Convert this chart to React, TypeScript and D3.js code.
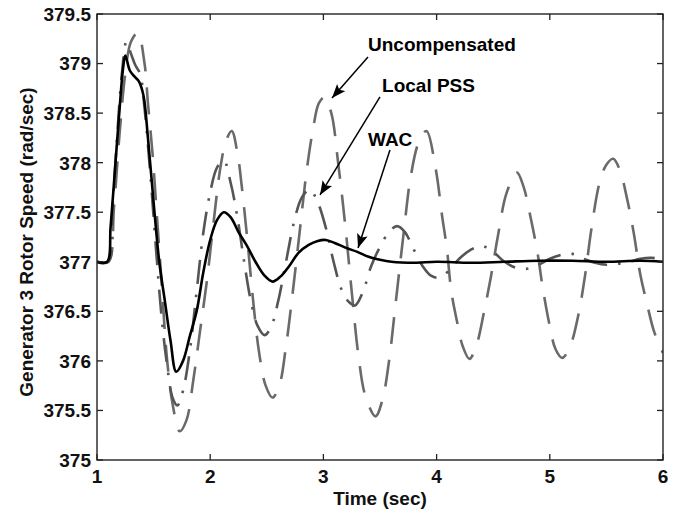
import React from "react";
import * as d3 from "d3";

const timeTicks = [1, 2, 3, 4, 5, 6];
const speedTicks = [375, 375.5, 376, 376.5, 377, 377.5, 378, 378.5, 379, 379.5];

const uncompT = [1.0, 1.1, 1.15, 1.2, 1.25, 1.3, 1.36, 1.42, 1.45, 1.49, 1.53, 1.57, 1.62, 1.67, 1.73, 1.79, 1.85, 1.91, 1.97, 2.03, 2.09, 2.14, 2.19, 2.24, 2.28, 2.33, 2.38, 2.43, 2.49, 2.55, 2.61, 2.67, 2.73, 2.79, 2.85, 2.91, 2.96, 3.01, 3.07, 3.13, 3.19, 3.25, 3.31, 3.37, 3.46, 3.52, 3.58, 3.64, 3.71, 3.77, 3.84, 3.91, 3.99, 4.05, 4.09, 4.13, 4.18, 4.23, 4.29, 4.35, 4.42, 4.48, 4.54, 4.62, 4.71, 4.77, 4.83, 4.89, 4.94, 5.0, 5.05, 5.11, 5.18, 5.25, 5.31, 5.37, 5.44, 5.5, 5.56, 5.62, 5.68, 5.74, 5.8, 5.86, 5.92, 6.0];
const uncompV = [377.0, 377.0, 377.55, 378.3, 378.9, 379.22, 379.31, 379.0, 378.6, 378.1, 377.45, 376.8, 376.0, 375.55, 375.29, 375.4, 375.8, 376.3, 376.8, 377.4, 377.95, 378.22, 378.32, 378.1, 377.75, 377.2, 376.6, 376.1, 375.75, 375.63, 375.75, 376.15, 376.7, 377.3, 377.9, 378.35, 378.6, 378.66, 378.5, 378.0, 377.4, 376.7, 376.05, 375.65, 375.44, 375.6, 376.0, 376.6, 377.3, 377.85, 378.2, 378.32, 377.95, 377.45, 377.14, 376.7, 376.4, 376.15, 376.02, 376.15, 376.5, 376.85, 377.25, 377.7, 377.9, 377.75, 377.45, 377.1, 376.72, 376.35, 376.12, 376.03, 376.15, 376.45, 376.85, 377.35, 377.8, 377.98, 378.04, 377.92, 377.65, 377.3, 376.87, 376.57, 376.3, 376.08];

const pssT = [1.0, 1.1, 1.14, 1.18, 1.22, 1.26, 1.3, 1.34, 1.38, 1.42, 1.47, 1.52, 1.57, 1.62, 1.67, 1.71, 1.76, 1.82, 1.88, 1.94, 2.0, 2.06, 2.12, 2.18, 2.24, 2.3, 2.36, 2.42, 2.48, 2.54, 2.6, 2.67, 2.74, 2.81, 2.88, 2.95, 3.02, 3.09, 3.16, 3.22, 3.28, 3.35, 3.42, 3.5, 3.58, 3.65, 3.72, 3.8, 3.88, 3.95, 4.02, 4.1, 4.2, 4.3, 4.4, 4.5, 4.6, 4.7, 4.8, 4.9, 5.0, 5.1, 5.2, 5.3, 5.4, 5.5, 5.6, 5.7, 5.8, 5.9, 6.0];
const pssV = [377.0, 377.0, 377.6, 378.3, 378.9, 379.22, 379.1, 378.98, 378.9, 378.55, 377.9, 377.15, 376.45, 375.95, 375.62, 375.55, 375.7, 376.1, 376.7, 377.3, 377.7, 377.95, 378.02, 377.8, 377.45, 377.0, 376.6, 376.35, 376.26, 376.35, 376.6, 377.0, 377.4, 377.65, 377.73, 377.6, 377.35, 377.0, 376.72, 376.6, 376.56, 376.7, 376.95, 377.15, 377.3, 377.36, 377.3, 377.12, 376.95, 376.86, 376.84, 376.9, 377.03, 377.12, 377.16, 377.1, 377.0, 376.94, 376.93, 376.97, 377.03, 377.07, 377.08, 377.03, 376.99, 376.97, 376.98, 377.0, 377.03, 377.04, 377.02];

const wacT = [1.0, 1.09, 1.12, 1.16, 1.2, 1.23, 1.25, 1.29, 1.33, 1.37, 1.41, 1.45, 1.5, 1.55, 1.6, 1.65, 1.7, 1.76, 1.82, 1.88, 1.94, 2.0, 2.06, 2.12, 2.18, 2.25, 2.32, 2.4, 2.48, 2.55, 2.62, 2.7, 2.78, 2.87, 2.95, 3.02, 3.1, 3.2, 3.3, 3.4, 3.5, 3.6, 3.8, 4.0, 4.3, 4.6, 4.9, 5.2, 5.5, 5.8, 6.0];
const wacV = [377.0, 377.0, 377.35, 377.95, 378.55, 378.95, 379.08, 378.93, 378.87, 378.82, 378.68, 378.25, 377.6, 377.0, 376.6, 376.2, 375.89, 376.0, 376.25, 376.5, 376.9, 377.22, 377.42, 377.5, 377.45, 377.3, 377.17, 377.0, 376.86, 376.8, 376.85, 376.96, 377.09, 377.17, 377.21, 377.22, 377.19, 377.14, 377.1, 377.05, 377.02, 377.0, 376.99, 377.0, 376.99, 377.0, 377.01, 377.01, 377.0, 377.01, 377.0];

const labels = ["Uncompensated", "Local PSS", "WAC"];
// text anchor (time, speed), arrow tail (time, speed), arrow tip (time, speed)
const labelT = [3.394, 3.518, 3.394];
const labelV = [379.127, 378.713, 378.168];
const tailT = [3.394, 3.5, 3.588];
const tailV = [379.066, 378.663, 378.128];
const tipT = [3.076, 2.97, 3.306];
const tipV = [378.652, 377.674, 377.139];

const W = 683;
const H = 514;
const M = { left: 97, right: 20, top: 14, bottom: 54 };
const FONT = "'Liberation Sans', Arial, Helvetica, sans-serif";

export default function App() {
  const x = d3.scaleLinear().domain([1, 6]).range([M.left, W - M.right]);
  const y = d3.scaleLinear().domain([375, 379.5]).range([H - M.bottom, M.top]);
  const line = d3
    .line<[number, number]>()
    .x((d) => x(d[0]))
    .y((d) => y(d[1]))
    .curve(d3.curveCatmullRom.alpha(0.5));

  const mk = (ts: number[], vs: number[]) => ts.map((t, i) => [t, vs[i]] as [number, number]);
  const uncomp = line(mk(uncompT, uncompV)) || "";
  const pss = line(mk(pssT, pssV)) || "";
  const wac = line(mk(wacT, wacV)) || "";

  const x0 = M.left, x1 = W - M.right, y0 = H - M.bottom, y1 = M.top;
  const tl = 6;

  return (
    <svg
      width={W}
      height={H}
      style={{ position: "fixed", left: 0, top: 0, background: "#fff" }}
      fontFamily={FONT}
    >
      <defs>
        <clipPath id="plot">
          <rect x={x0} y={y1} width={x1 - x0} height={y0 - y1} />
        </clipPath>
        <marker
          id="ah"
          markerUnits="userSpaceOnUse"
          markerWidth={16}
          markerHeight={12}
          refX={14}
          refY={5.5}
          orient="auto"
        >
          <path d="M0,0 L14,5.5 L0,11 L3,5.5 Z" fill="#000" />
        </marker>
      </defs>
      <rect x={0} y={0} width={W} height={H} fill="#fff" />
      <g clipPath="url(#plot)" fill="none">
        <path d={uncomp} stroke="#6a6a6a" strokeWidth={2.6} strokeDasharray="27 16" />
        <path d={pss} stroke="#555" strokeWidth={2.6} strokeDasharray="24 11 2.5 11" />
        <path d={wac} stroke="#000" strokeWidth={2.6} strokeLinejoin="round" />
      </g>
      {/* axes box */}
      <rect x={x0} y={y1} width={x1 - x0} height={y0 - y1} fill="none" stroke="#222" strokeWidth={1.4} />
      {timeTicks.map((t) => (
        <g key={"xt" + t}>
          <line x1={x(t)} x2={x(t)} y1={y0} y2={y0 - tl} stroke="#222" strokeWidth={1.3} />
          <line x1={x(t)} x2={x(t)} y1={y1} y2={y1 + tl} stroke="#222" strokeWidth={1.3} />
          <text x={x(t)} y={483} textAnchor="middle" fontSize={19} fontWeight="bold" fill="#111">
            {String(t)}
          </text>
        </g>
      ))}
      {speedTicks.map((v) => (
        <g key={"yt" + v}>
          <line x1={x0} x2={x0 + tl} y1={y(v)} y2={y(v)} stroke="#222" strokeWidth={1.3} />
          <line x1={x1} x2={x1 - tl} y1={y(v)} y2={y(v)} stroke="#222" strokeWidth={1.3} />
          <text x={91} y={y(v)} dy="0.36em" textAnchor="end" fontSize={19} fontWeight="bold" fill="#111">
            {String(v)}
          </text>
        </g>
      ))}
      <text x={(x0 + x1) / 2} y={505} textAnchor="middle" fontSize={19} fontWeight="bold" fill="#111">
        Time (sec)
      </text>
      <text
        transform={`translate(33,${(y0 + y1) / 2 + 5}) rotate(-90)`}
        textAnchor="middle"
        fontSize={19}
        fontWeight="bold"
        fill="#111"
      >
        Generator 3 Rotor Speed (rad/sec)
      </text>
      {labels.map((lab, i) => (
        <g key={lab}>
          <line
            x1={x(tailT[i])}
            y1={y(tailV[i])}
            x2={x(tipT[i])}
            y2={y(tipV[i])}
            stroke="#000"
            strokeWidth={1.5}
            markerEnd="url(#ah)"
          />
          <text x={x(labelT[i])} y={y(labelV[i])} fontSize={19} fontWeight="bold" fill="#000">
            {lab}
          </text>
        </g>
      ))}
    </svg>
  );
}
